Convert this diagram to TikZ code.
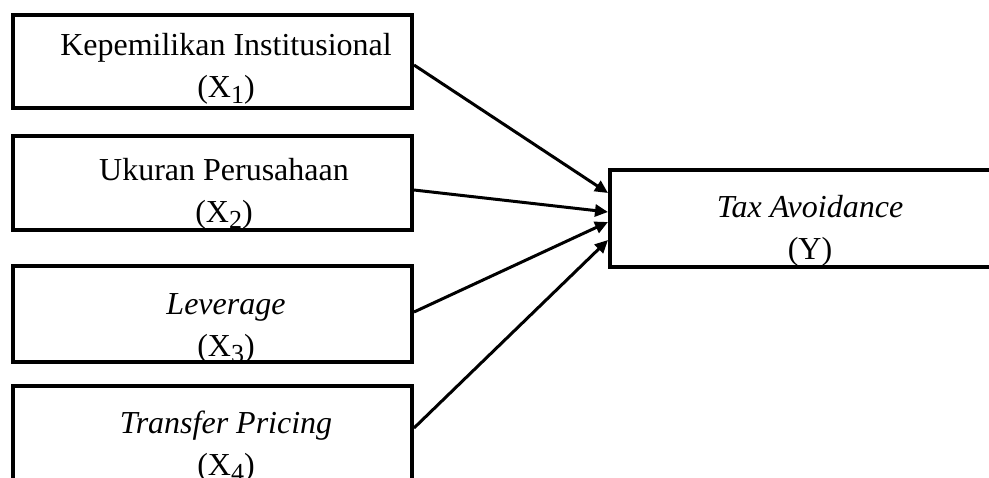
\documentclass[tikz,border=0pt]{standalone}
\usepackage{fontspec}
\setmainfont{Liberation Serif}
\usetikzlibrary{arrows.meta,calc}

\newcommand{\vsub}[1]{\raisebox{-3pt}{\fontsize{13}{13}\selectfont #1}}

\tikzset{
  varbox/.style={draw, line width=2pt, line join=miter, minimum width=199.5pt, inner sep=0pt},
  lbl/.style={align=center, anchor=base, inner sep=0pt, font=\fontsize{16}{21}\selectfont},
  link/.style={line width=1.5pt, -{Triangle[length=6.5pt,width=6pt]}}
}

\begin{document}
\begin{tikzpicture}[x=0.5pt,y=-0.5pt]
  \useasboundingbox (0,0) rectangle (989,477);
  \clip (0,0) rectangle (989,477);
  % independent variables
  \node [varbox, minimum height=46.5pt] (x1) at (212.5,61.5) {};
  \node [varbox, minimum height=47pt] (x2) at (212.5,183) {};
  \node [varbox, minimum height=48pt] (x3) at (212.5,314) {};
  \node [varbox, minimum height=57pt] (x4) at (212.5,443) {};
  % dependent variable
  \node [varbox, minimum width=200pt, minimum height=48.5pt] (ty) at (810,218.5) {};

  % labels (base = last line)
  \node [lbl] (x1t) at (226,97) {Kepemilikan Institusional\\(X\vsub{1})};
  \node [lbl] (x2t) at (224,222) {Ukuran Perusahaan\\(X\vsub{2})};
  \node [lbl] (x3t) at (226,356) {\textit{Leverage}\\(X\vsub{3})};
  \node [lbl] (x4t) at (226,475) {\textit{Transfer Pricing}\\(X\vsub{4})};
  \node [lbl] (tyt) at (810,259) {\textit{Tax Avoidance}\\(Y)};

  \draw [link] ($(x1.east)+(0,3.5)$) -- ($(ty.west)+(0,-25.5)$);
  \draw [link] ($(x2.east)+(0,7)$) -- ($(ty.west)+(0,-6.5)$);
  \draw [link] ($(x3.east)+(0,-2)$) -- ($(ty.west)+(0,3.5)$);
  \draw [link] ($(x4.east)+(0,-15)$) -- ($(ty.west)+(0,21.5)$);
\end{tikzpicture}
\end{document}
